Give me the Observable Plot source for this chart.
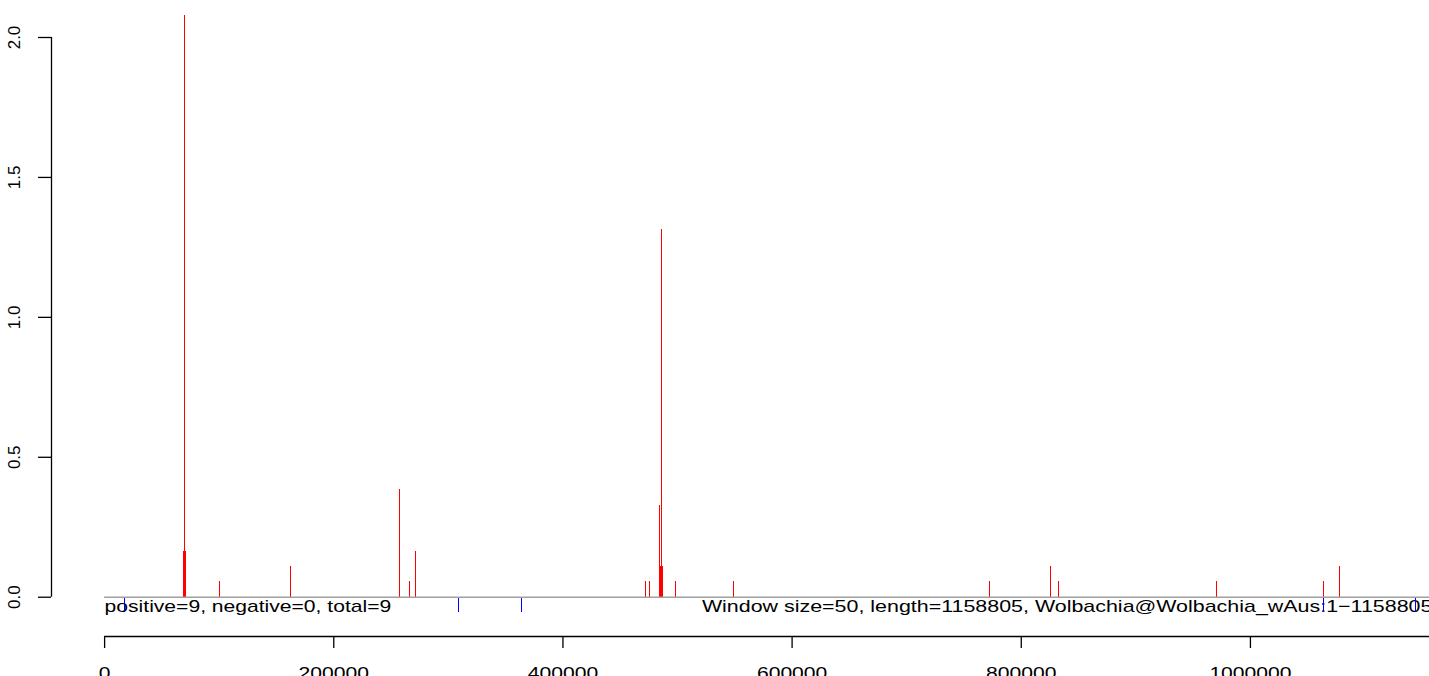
<!DOCTYPE html>
<html><head><meta charset="utf-8">
<script src="https://cdn.jsdelivr.net/npm/d3@7"></script>
<script src="https://cdn.jsdelivr.net/npm/@observablehq/plot@0.6"></script>
<style>body{margin:0;background:#fff;} #chart svg{display:block;}</style>
</head><body><div id="chart"></div>
<script>
// ---- data ----
const seqLength = 1158805;
const posPositions = [69000, 69800, 70600, 100350, 162300, 257000, 265700, 271650,
  472350, 475800, 484550, 485300, 486000, 486700, 487200, 498200, 548900,
  772600, 825700, 832700, 970600, 1064000, 1077900];
const posValues = [0.164, 2.079, 0.164, 0.055, 0.11, 0.384, 0.055, 0.164,
  0.055, 0.055, 0.329, 0.11, 1.314, 0.11, 0.055, 0.055, 0.055,
  0.055, 0.11, 0.055, 0.055, 0.055, 0.11];
const negPositions = [17700, 309100, 364200, 1064000, 1144500];
const negValues = [-0.055, -0.055, -0.055, -0.055, -0.055];
const xTicks = [0, 200000, 400000, 600000, 800000, 1000000, 1200000];
const yTicks = [0, 0.5, 1, 1.5, 2];
const yTickLabels = ["0.0", "0.5", "1.0", "1.5", "2.0"];
const leftLabel = "positive=9, negative=0, total=9";
const rightLabel = "Window size=50, length=1158805, Wolbachia@Wolbachia_wAus:1\u22121158805";

// ---- layout ----
const W = 1429, H = 676;
const region = {left: 51, right: 1485, top: -9, bottom: 636};
const allVals = posValues.concat(negValues);
const ylim = [d3.min(allVals), d3.max(allVals)];
const xlim = [0, seqLength];
const ext = lim => { const r = lim[1] - lim[0]; return [lim[0] - 0.04 * r, lim[1] + 0.04 * r]; };
const xUsr = ext(xlim), yUsr = ext(ylim);

const bars = posPositions.map((p, i) => ({pos: p, val: posValues[i]}))
  .concat(negPositions.map((p, i) => ({pos: p, val: negValues[i]})));

const font = "'Liberation Sans', Arial, Helvetica, sans-serif";

const plot = Plot.plot({
  width: W, height: H,
  marginLeft: region.left, marginRight: 0, marginTop: 0, marginBottom: H - region.bottom,
  x: {domain: xUsr, range: [region.left, region.right], axis: null},
  y: {domain: yUsr, range: [region.bottom, region.top], axis: null},
  style: {fontFamily: font, background: "white", color: "black", overflow: "hidden"},
  marks: [
    Plot.text([leftLabel], {x: () => xlim[0], y: () => 0, text: d => d, textAnchor: "start",
      lineAnchor: "bottom", dy: 15, fontSize: 17, fill: "black"}),
    Plot.text([rightLabel], {x: () => xlim[1], y: () => 0, text: d => d, textAnchor: "end",
      lineAnchor: "bottom", dy: 15, fontSize: 17, fill: "black", className: "wide"}),
    Plot.ruleX(bars, {x: "pos", y1: () => 0, y2: "val",
      stroke: d => d.val > 0 ? "#ff0000" : "#0000ff", strokeWidth: 1, shapeRendering: "crispEdges"}),
    Plot.ruleY([0], {x1: () => xlim[0], x2: () => xlim[1], stroke: "#a0a0a0", strokeWidth: 1.6}),
    // x axis
    Plot.ruleY([yUsr[0]], {x1: () => xTicks[0], x2: () => xTicks[xTicks.length - 1], stroke: "black", strokeWidth: 1.3}),
    Plot.axisX(xTicks, {anchor: "bottom", tickSize: 12, tickPadding: 18, fontSize: 17,
      tickFormat: d => String(d), label: null, strokeWidth: 1.3}),
    // y axis
    Plot.ruleX([xUsr[0]], {y1: () => yTicks[0], y2: () => yTicks[yTicks.length - 1], stroke: "black", strokeWidth: 1.3}),
    Plot.axisY(yTicks, {anchor: "left", tickSize: 13, tickFormat: () => "", label: null, strokeWidth: 1.3}),
    Plot.text(yTicks, {y: d => d, text: (d, i) => yTickLabels[i], frameAnchor: "left", dx: -37,
      rotate: -90, fontSize: 17, textAnchor: "middle", lineAnchor: "middle", fill: "black"})
  ]
});
document.getElementById("chart").append(plot);

// horizontal text in the reference is drawn wider than the font's natural width
d3.select(plot).selectAll("text").each(function() {
  const tr = this.getAttribute("transform") || "";
  if (tr.includes("rotate")) return;
  const L = this.getComputedTextLength();
  const k = this.closest(".wide") ? 1.26 : 1.24;
  if (L > 0) {
    this.setAttribute("textLength", (L * k).toFixed(1));
    this.setAttribute("lengthAdjust", "spacingAndGlyphs");
  }
});
</script>
</body></html>
